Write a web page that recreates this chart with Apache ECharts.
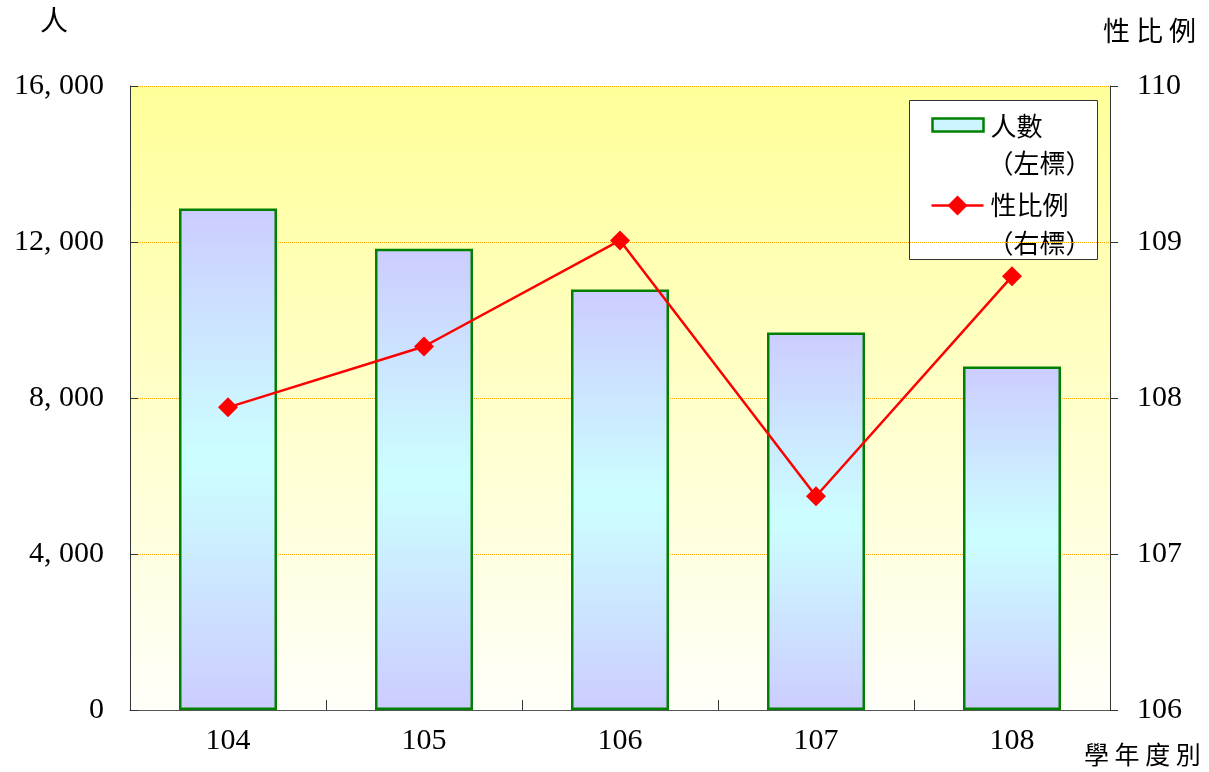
<!DOCTYPE html>
<html><head><meta charset="utf-8">
<script src="https://cdn.jsdelivr.net/npm/echarts@6/dist/echarts.min.js"></script>
<style>html,body{margin:0;padding:0;background:#fff}#c{width:1209px;height:772px}</style>
</head><body><div id="c"></div>
<script>
const categories = ['104','105','106','107','108'];
const students = [12860, 11830, 10780, 9680, 8810];
const sexRatio = [107.94, 108.33, 109.01, 107.37, 108.78];
const leftTicks = [0, 4000, 8000, 12000, 16000];
const rightTicks = [106, 107, 108, 109, 110];

const FONT = '"Liberation Serif", "Noto Sans CJK TC", serif';
const CJK = '"Noto Sans CJK TC", serif';
const chart = echarts.init(document.getElementById('c'));
chart.setOption({
  backgroundColor: '#ffffff',
  animation: false,
  grid: {
    left: 130, right: 99, top: 86, bottom: 62, show: true,
    borderWidth: 0,
    backgroundColor: new echarts.graphic.LinearGradient(0,0,0,1,[
      {offset:0,color:'#FFFF99'},{offset:1,color:'#FFFFFA'}])
  },
  legend: {show: false, data: ['人數','性比例']},
  xAxis: {
    type: 'category', data: categories,
    axisLine: {lineStyle: {color: '#555', width: 1}},
    axisTick: {show: true, inside: true, length: 10, lineStyle:{color:'#333'}},
    axisLabel: {fontFamily: FONT, fontSize: 30, color: '#000', margin: 16}
  },
  yAxis: [
    {
      type: 'value', min: 0, max: 16000, interval: 4000,
      axisLine: {show: true, lineStyle: {color: '#333', width: 1}},
      axisTick: {show: true, inside: true, length: 8, lineStyle:{color:'#333'}},
      splitLine: {show: true, lineStyle: {color: '#FFA500', type: 'dotted', width: 1}},
      axisLabel: {fontFamily: FONT, fontSize: 30, color: '#000', margin: 26,
        formatter: v => v === 0 ? '0' : (v/1000) + ', 000'}
    },
    {
      type: 'value', min: 106, max: 110, interval: 1,
      axisLine: {show: true, lineStyle: {color: '#333', width: 1}},
      axisTick: {show: true, inside: false, length: 8, lineStyle:{color:'#333'}},
      splitLine: {show: false},
      axisLabel: {fontFamily: FONT, fontSize: 30, color: '#000', margin: 27}
    }
  ],
  series: [
    {
      name: '人數', type: 'bar', data: students, barWidth: '50%', yAxisIndex: 0,
      itemStyle: {
        color: new echarts.graphic.LinearGradient(0,0,0,1,[
          {offset:0,color:'#CCCCFF'},{offset:0.5,color:'#CCFFFF'},{offset:1,color:'#CCCCFF'}]),
        borderColor: '#008000', borderWidth: 2.5
      }
    },
    {
      name: '性比例', type: 'line', data: sexRatio, yAxisIndex: 1,
      symbol: 'diamond', symbolSize: 20,
      lineStyle: {color: '#FF0000', width: 2.5},
      itemStyle: {color: '#FF0000'}
    }
  ],
  graphic: [
    {type:'text', left: 40, top: 6, style:{text:'人', font:'28px '+CJK, fill:'#000'}},
    {type:'text', left: 1103, top: 17, style:{text:'性 比 例', font:'27px '+CJK, fill:'#000'}},
    {type:'text', left: 1084, top: 742, style:{text:'學 年 度 別', font:'25px '+CJK, fill:'#000'}},
    {type:'group', left: 909, top: 100, children: [
      {type:'rect', shape:{x:0,y:0,width:188,height:159}, style:{fill:'#fff', stroke:'#333', lineWidth:1}},
      {type:'rect', shape:{x:23,y:18,width:51,height:13}, style:{fill:'#CCF5FF', stroke:'#008000', lineWidth:2.5}},
      {type:'text', x:81, y:26, style:{text:'人數', font:'26px '+CJK, fill:'#000', verticalAlign:'middle'}},
      {type:'text', x:78, y:63, style:{text:'（左標）', font:'26px '+CJK, fill:'#000', verticalAlign:'middle'}},
      {type:'line', shape:{x1:22,y1:105,x2:74,y2:105}, style:{stroke:'#FF0000', lineWidth:2.5}},
      {type:'polygon', shape:{points:[[48,95],[58,105],[48,115],[38,105]]}, style:{fill:'#FF0000'}},
      {type:'text', x:81, y:105, style:{text:'性比例', font:'26px '+CJK, fill:'#000', verticalAlign:'middle'}},
      {type:'text', x:78, y:143, style:{text:'（右標）', font:'26px '+CJK, fill:'#000', verticalAlign:'middle'}}
    ]}
  ]
});
</script></body></html>
